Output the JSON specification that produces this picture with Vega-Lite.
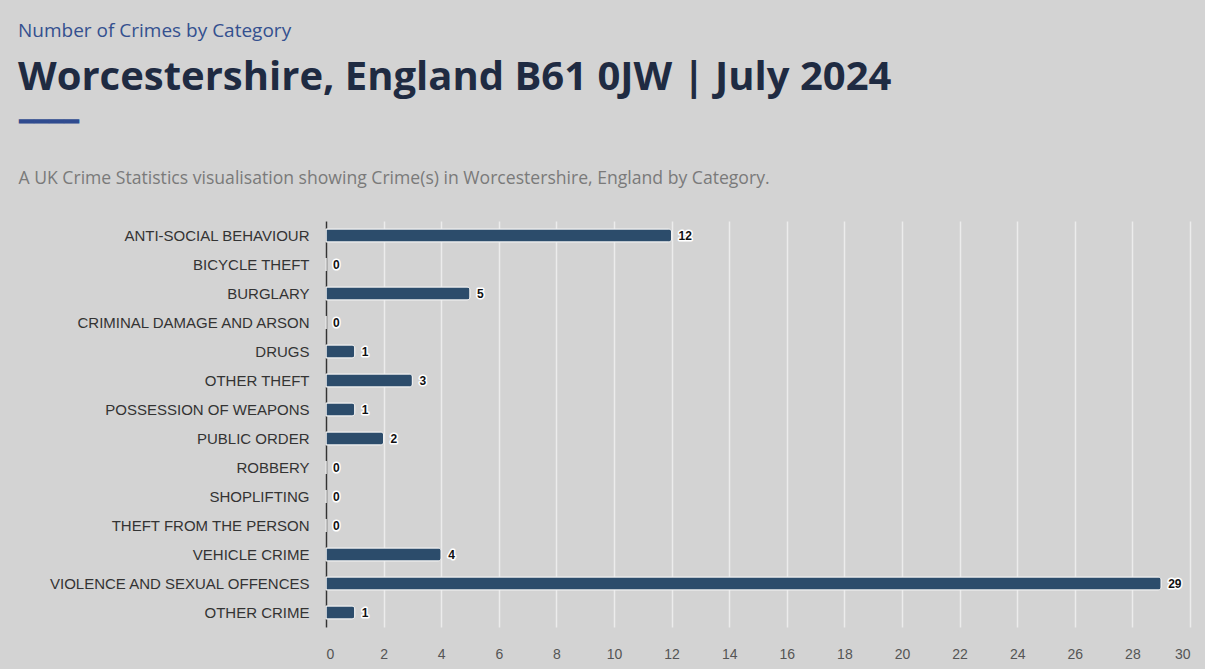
{
  "$schema": "https://vega.github.io/schema/vega-lite/v6.json",
  "background": "#d3d3d3",
  "padding": {"left": 18, "top": 22, "right": 15, "bottom": 8},
  "width": 864,
  "height": 406,
  "title": {
    "text": "Number of Crimes by Category",
    "subtitle": "Worcestershire, England B61 0JW | July 2024",
    "anchor": "start",
    "frame": "bounds",
    "color": "#34508f",
    "fontSize": 19,
    "font": "Open Sans",
    "fontWeight": "normal",
    "subtitleColor": "#1f2b42",
    "subtitleFontSize": 40,
    "subtitleFont": "Open Sans",
    "subtitleFontWeight": "bold",
    "subtitlePadding": 17,
    "offset": 11
  },
  "data": {
    "values": [
      {"category": "ANTI-SOCIAL BEHAVIOUR", "crimes": 12},
      {"category": "BICYCLE THEFT", "crimes": 0},
      {"category": "BURGLARY", "crimes": 5},
      {"category": "CRIMINAL DAMAGE AND ARSON", "crimes": 0},
      {"category": "DRUGS", "crimes": 1},
      {"category": "OTHER THEFT", "crimes": 3},
      {"category": "POSSESSION OF WEAPONS", "crimes": 1},
      {"category": "PUBLIC ORDER", "crimes": 2},
      {"category": "ROBBERY", "crimes": 0},
      {"category": "SHOPLIFTING", "crimes": 0},
      {"category": "THEFT FROM THE PERSON", "crimes": 0},
      {"category": "VEHICLE CRIME", "crimes": 4},
      {"category": "VIOLENCE AND SEXUAL OFFENCES", "crimes": 29},
      {"category": "OTHER CRIME", "crimes": 1}
    ]
  },
  "encoding": {
    "y": {
      "field": "category",
      "type": "nominal",
      "sort": null,
      "scale": {"paddingInner": 0.55, "paddingOuter": 0.275},
      "axis": {
        "title": "A UK Crime Statistics visualisation showing Crime(s) in Worcestershire, England by Category.",
        "titleAngle": 0,
        "titleAlign": "left",
        "titleBaseline": "alphabetic",
        "titleAnchor": "start",
        "titleX": -308,
        "titleY": -38,
        "titleFont": "Open Sans",
        "titleFontSize": 17.6,
        "titleFontWeight": "normal",
        "titleColor": "#7a7a7a",
        "labelFont": "Liberation Sans",
        "labelFontSize": 15,
        "labelColor": "#333333",
        "labelPadding": 17,
        "labelLimit": 320,
        "ticks": false,
        "domainColor": "#333333",
        "domainWidth": 1.5,
        "grid": false
      }
    }
  },
  "layer": [
    {
      "mark": {"type": "bar", "color": "#2c4c6b", "stroke": "#f2f2f2", "strokeWidth": 1, "cornerRadiusEnd": 3},
      "encoding": {
        "x": {
          "field": "crimes",
          "type": "quantitative",
          "scale": {"domain": [0, 30], "nice": false},
          "axis": {
            "orient": "bottom",
            "values": [0, 2, 4, 6, 8, 10, 12, 14, 16, 18, 20, 22, 24, 26, 28, 30],
            "title": null,
            "labelFont": "Liberation Sans",
            "labelFontSize": 14,
            "labelColor": "#555555",
            "labelPadding": 20,
            "ticks": false,
            "domain": false,
            "grid": true,
            "gridColor": "#ececec",
            "gridWidth": 1.5
          }
        }
      }
    },
    {
      "mark": {"type": "text", "align": "left", "dx": 7, "font": "Liberation Sans", "fontSize": 12, "fontWeight": "bold", "stroke": "#ffffff", "strokeWidth": 3, "strokeJoin": "round"},
      "encoding": {
        "x": {"field": "crimes", "type": "quantitative", "axis": null},
        "text": {"field": "crimes", "type": "quantitative"}
      }
    },
    {
      "mark": {"type": "text", "align": "left", "dx": 7, "font": "Liberation Sans", "fontSize": 12, "fontWeight": "bold", "color": "#111111"},
      "encoding": {
        "text": {"field": "crimes", "type": "quantitative"},
        "x": {
          "field": "crimes",
          "type": "quantitative",
          "axis": {
            "orient": "top",
            "labels": false,
            "ticks": false,
            "domain": false,
            "grid": false,
            "title": "━━━━",
            "titleColor": "#2f4b8f",
            "titleFontSize": 25,
            "titleFontWeight": "normal",
            "titleAnchor": "start",
            "titleAlign": "left",
            "titleBaseline": "middle",
            "titleX": -308,
            "titleY": -100
          }
        }
      }
    }
  ],
  "resolve": {"axis": {"x": "independent"}},
  "config": {"view": {"stroke": null}}
}
